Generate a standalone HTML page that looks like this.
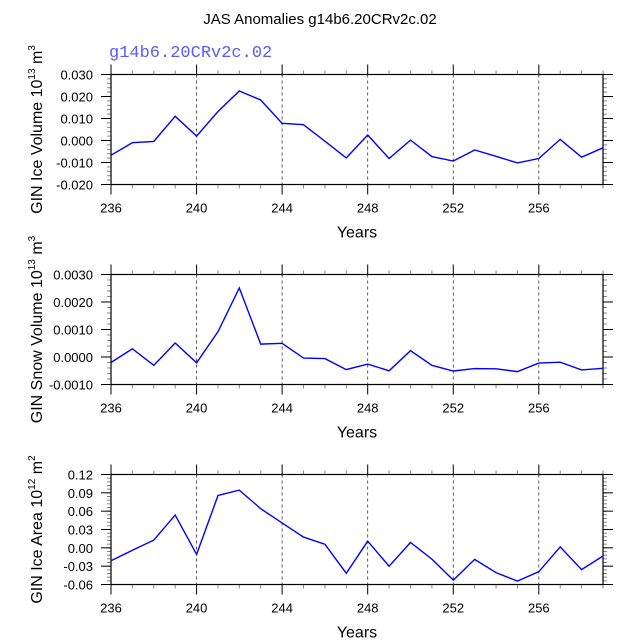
<!DOCTYPE html>
<html><head><meta charset="utf-8"><style>
body{margin:0;background:#fff}
svg text{font-family:"Liberation Sans",sans-serif}
</style></head><body>
<svg id="chart" width="638" height="638" xmlns="http://www.w3.org/2000/svg">
<text x="320" y="24" font-size="15" text-anchor="middle">JAS Anomalies g14b6.20CRv2c.02</text>
<text x="109" y="57" font-size="17" fill="#5a5aff" style="font-family:'Liberation Mono',monospace">g14b6.20CRv2c.02</text>
</svg>
<script>
const years=[236,237,238,239,240,241,242,243,244,245,246,247,248,249,250,251,252,253,254,255,256,257,258,259];
const iceVolume=[-0.0067,-0.0010,-0.0004,0.0110,0.0020,0.0132,0.0225,0.0184,0.0078,0.0072,-0.0003,-0.0079,0.0025,-0.0082,0.0002,-0.0073,-0.0093,-0.0043,-0.0072,-0.0102,-0.0082,0.0005,-0.0076,-0.0033];
const snowVolume=[-0.0002,0.0003,-0.0003,0.00051,-0.00021,0.00092,0.00251,0.00047,0.0005,-0.00004,-0.00006,-0.00046,-0.00026,-0.0005,0.00023,-0.0003,-0.00051,-0.00042,-0.00043,-0.00053,-0.00022,-0.00019,-0.00047,-0.00041];
const iceArea=[-0.0212,-0.004,0.0126,0.0535,-0.0107,0.0857,0.0945,0.064,0.0408,0.0175,0.0059,-0.0417,0.0109,-0.03,0.0087,-0.0184,-0.0528,-0.019,-0.0406,-0.0545,-0.039,0.0015,-0.0356,-0.0134];
const xTickLabels=[236,240,244,248,252,256];
const iceVolTicks=[-0.02,-0.01,0,0.01,0.02,0.03];
const snowVolTicks=[-0.001,0,0.001,0.002,0.003];
const iceAreaTicks=[-0.06,-0.03,0,0.03,0.06,0.09,0.12];

const NS="http://www.w3.org/2000/svg";
const svg=document.getElementById('chart');
function mk(tag,attrs,parent){const e=document.createElementNS(NS,tag);for(const k in attrs)e.setAttribute(k,attrs[k]);(parent||svg).appendChild(e);return e;}
const L=111,R=603,H=110;
const xs=y=>L+(y-years[0])/(years[years.length-1]-years[0])*(R-L);

function panel(top,vals,ticks,dec,minorStep,name,titleMain,exp,unitExp){
  const ymin=ticks[0],ymax=ticks[ticks.length-1];
  const ys=v=>top+H-(v-ymin)/(ymax-ymin)*H;
  const g=mk('g',{});
  
  
  // gridlines
  xTickLabels.slice(1).forEach(t=>{
    const l=mk('line',{x1:xs(t),x2:xs(t),y1:top,y2:top+H,stroke:'#333','stroke-width':0.8,'stroke-dasharray':'3,3'},g);
    
    
  });
  // x ticks
  years.forEach(y=>{
    const maj=xTickLabels.includes(y);const len=maj?10:4;
    mk('line',{x1:xs(y),x2:xs(y),y1:top+H,y2:top+H+len,stroke:maj?'#000':'#888','stroke-width':1},g);
    mk('line',{x1:xs(y),x2:xs(y),y1:top,y2:top-len,stroke:maj?'#000':'#888','stroke-width':1},g);
  });
  xTickLabels.forEach(t=>{
    const tx=mk('text',{x:xs(t),y:top+H+28,'font-size':13,'text-anchor':'middle'},g);
    tx.textContent=t;
    
    
  });
  // y minor ticks
  const n=Math.round((ymax-ymin)/minorStep);
  for(let i=0;i<=n;i++){
    const v=ymin+i*minorStep;
    mk('line',{x1:L,x2:L-4,y1:ys(v),y2:ys(v),stroke:'#888','stroke-width':1},g);
    mk('line',{x1:R,x2:R+4,y1:ys(v),y2:ys(v),stroke:'#888','stroke-width':1},g);
  }
  ticks.forEach(v=>{
    mk('line',{x1:L,x2:L-10,y1:ys(v),y2:ys(v),stroke:'#000','stroke-width':1},g);
    mk('line',{x1:R,x2:R+10,y1:ys(v),y2:ys(v),stroke:'#000','stroke-width':1},g);
    const tx=mk('text',{x:93,y:ys(v)+5,'font-size':13,'text-anchor':'end'},g);
    tx.textContent=v.toFixed(dec);
    
    
  });
  const fr=mk('rect',{x:L,y:top,width:R-L,height:H,fill:'none',stroke:'#000','stroke-width':1.2},g);
  
  
  const pts=vals.map((v,i)=>xs(years[i]).toFixed(1)+','+ys(v).toFixed(1)).join(' ');
  const pl=mk('polyline',{points:pts,fill:'none',stroke:'#0000ff','stroke-width':1.4},g);
  
  
  const xt=mk('text',{x:357,y:top+H+53,'font-size':16,'text-anchor':'middle'},g);
  xt.textContent='Years';
  
  
  const yt=mk('text',{transform:`translate(42,${top+H/2}) rotate(-90)`,'font-size':16,'text-anchor':'middle'},g);
  yt.innerHTML=titleMain+' 10<tspan dy="-7" font-size="10">'+exp+'</tspan><tspan dy="7"> m</tspan><tspan dy="-7" font-size="10">'+unitExp+'</tspan>';
  
  
}
panel(74.5,iceVolume,iceVolTicks,3,0.002,'ice-volume','GIN Ice Volume','13','3');
panel(274.5,snowVolume,snowVolTicks,4,0.0002,'snow-volume','GIN Snow Volume','13','3');
panel(474.5,iceArea,iceAreaTicks,2,0.006,'ice-area','GIN Ice Area','12','2');
</script>
</body></html>
